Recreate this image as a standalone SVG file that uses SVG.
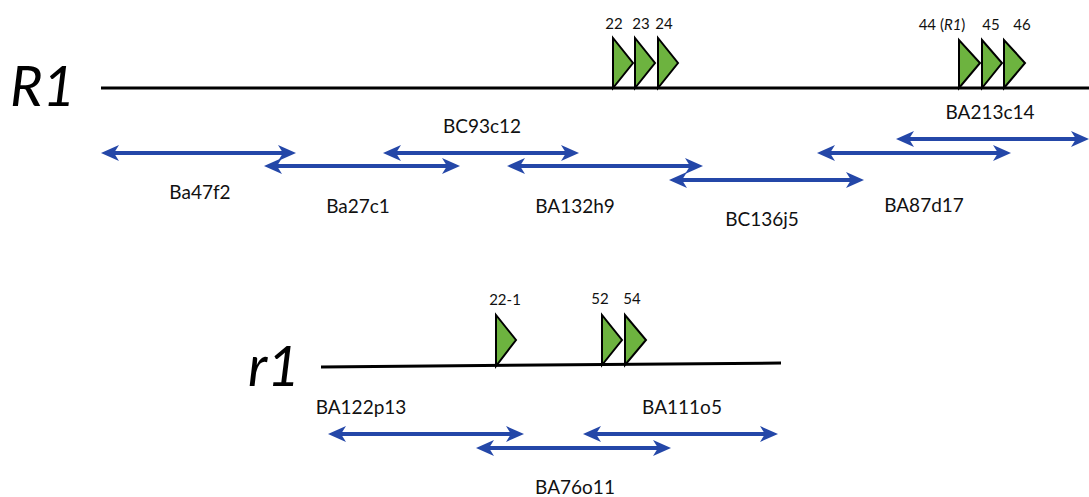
<svg xmlns="http://www.w3.org/2000/svg" width="1089" height="497" viewBox="0 0 1089 497">
<style>
.lbl{font-family:Lato,"Open Sans",sans-serif;font-size:19px;fill:#111;text-anchor:middle}
.num{font-family:Lato,"Open Sans",sans-serif;font-size:15px;fill:#111;text-anchor:middle}
.big{font-family:Lato,"Open Sans",sans-serif;font-size:56px;font-style:italic;fill:#000}
.chr{stroke:#000;stroke-width:3;fill:none}
.tri{fill:#6DB33F;stroke:#000;stroke-width:2;stroke-linejoin:miter}
.clone{stroke:#2447A8;stroke-width:4;fill:none;marker-start:url(#ah);marker-end:url(#ah)}
</style>
<defs>
<marker id="ah" viewBox="0 0 18 16" refX="10" refY="8" markerWidth="18" markerHeight="16" markerUnits="userSpaceOnUse" orient="auto-start-reverse">
<path d="M0,0 L18,8 L0,16 L5,8 Z" fill="#2447A8"/>
</marker>
</defs>
<rect width="1089" height="497" fill="#fff"/>
<g id="R1">
<text class="big" x="10" y="106">R1</text>
<line class="chr" x1="101" y1="88" x2="1089" y2="88"/>
</g>
<g id="r1">
<text class="big" x="248" y="386">r1</text>
<line class="chr" x1="321" y1="367" x2="781" y2="363"/>
</g>
<g id="markers-R1">
<polygon class="tri" points="613,88 613,38 633,63"/>
<polygon class="tri" points="635,88 635,38 655,63"/>
<polygon class="tri" points="658,88 658,38 678,63"/>
<text class="num" x="614" y="29">22</text>
<text class="num" x="641" y="29">23</text>
<text class="num" x="664" y="29">24</text>
<polygon class="tri" points="959,88 959,40 980,63"/>
<polygon class="tri" points="982,88 982,40 1002,63"/>
<polygon class="tri" points="1004,88 1004,40 1025,63"/>
<text class="num" x="942" y="30">44 (<tspan font-style="italic">R1</tspan>)</text>
<text class="num" x="991" y="30">45</text>
<text class="num" x="1022" y="30">46</text>
</g>
<g id="markers-r1">
<polygon class="tri" points="496,366 496,315 516,340"/>
<polygon class="tri" points="602,365 602,315 622,340"/>
<polygon class="tri" points="625,365 625,315 646,340"/>
<text class="num" x="505" y="305">22-1</text>
<text class="num" x="600" y="304">52</text>
<text class="num" x="632" y="304">54</text>
</g>
<g id="connectors">
<line class="clone" x1="109" y1="153" x2="288" y2="153"/>
<line class="clone" x1="272" y1="166" x2="452" y2="166"/>
<line class="clone" x1="391" y1="153" x2="571" y2="153"/>
<line class="clone" x1="515" y1="166" x2="695" y2="166"/>
<line class="clone" x1="677" y1="180" x2="856" y2="180"/>
<line class="clone" x1="825" y1="153" x2="1003" y2="153"/>
<line class="clone" x1="904" y1="139" x2="1081" y2="139"/>
<line class="clone" x1="336" y1="434" x2="516" y2="434"/>
<line class="clone" x1="484" y1="448" x2="663" y2="448"/>
<line class="clone" x1="591" y1="434" x2="770" y2="434"/>
</g>
<g id="clone-labels">
<text class="lbl" x="200" y="199">Ba47f2</text>
<text class="lbl" x="358" y="213">Ba27c1</text>
<text class="lbl" x="482" y="133">BC93c12</text>
<text class="lbl" x="575" y="213">BA132h9</text>
<text class="lbl" x="762" y="226">BC136j5</text>
<text class="lbl" x="924" y="212">BA87d17</text>
<text class="lbl" x="990" y="119">BA213c14</text>
<text class="lbl" x="361" y="414">BA122p13</text>
<text class="lbl" x="682" y="414">BA111o5</text>
<text class="lbl" x="575" y="494">BA76o11</text>
</g>
</svg>
